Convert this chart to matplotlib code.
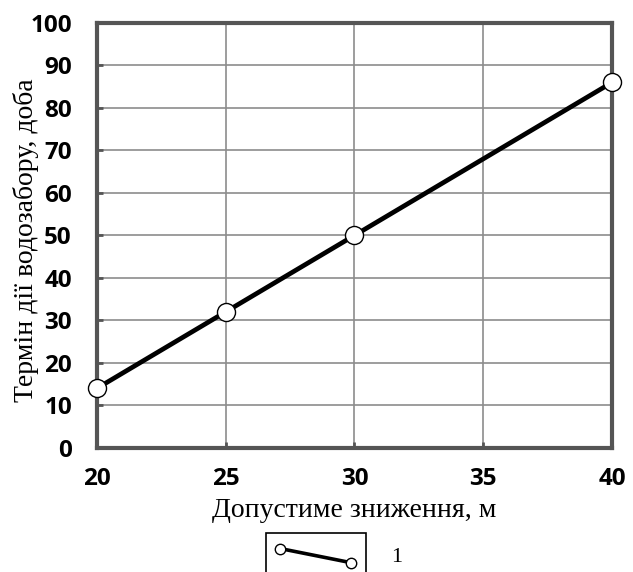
import matplotlib

matplotlib.use("Agg")
import matplotlib.pyplot as plt
from matplotlib.legend_handler import HandlerLine2D
from matplotlib.lines import Line2D
from matplotlib.patches import Rectangle

# data
drawdown = [20, 25, 30, 40]          # Допустиме зниження, м
duration = [14, 32, 50, 86]          # Термін дії водозабору, доба
x_ticks = [20, 25, 30, 35, 40]
y_ticks = [0, 10, 20, 30, 40, 50, 60, 70, 80, 90, 100]
series_label = "1"

FRAME = "#555555"
GRID = "#8c8c8c"


class BoxedSlopeHandler(HandlerLine2D):
    """Legend icon: a sloping line between two circles, framed by a box."""

    def create_artists(self, legend, orig_handle, xdescent, ydescent,
                       width, height, fontsize, trans):
        x0, x1 = -xdescent + 0.14 * width, -xdescent + 0.85 * width
        y0, y1 = -ydescent + 0.85 * height, -ydescent + 0.05 * height
        line = Line2D([x0, x1], [y0, y1], color="black", lw=2.6,
                      marker="o", markersize=7.5, markerfacecolor="white",
                      markeredgecolor="black", markeredgewidth=1.0)
        line.set_transform(trans)
        box = Rectangle((-xdescent, -ydescent - 0.9 * height), width,
                        2.6 * height, fill=False, edgecolor="black", lw=1.2)
        box.set_transform(trans)
        return [box, line]


fig = plt.figure(figsize=(6.33, 5.72), dpi=100)
ax = fig.add_axes([0.153, 0.217, 0.814, 0.743])

ax.plot(drawdown, duration, color="black", lw=3.4, marker="o",
        markersize=13, markerfacecolor="white", markeredgecolor="black",
        markeredgewidth=1.0, label=series_label, zorder=3, clip_on=False)

ax.set_xlim(x_ticks[0], x_ticks[-1])
ax.set_ylim(y_ticks[0], y_ticks[-1])
ax.set_xticks(x_ticks)
ax.set_yticks(y_ticks)
ax.grid(True, color=GRID, lw=1.2)
ax.set_axisbelow(True)

for spine in ax.spines.values():
    spine.set_color(FRAME)
    spine.set_linewidth(3)

ax.tick_params(direction="in", length=4, width=2, color=FRAME,
               labelsize=17.5)
ax.tick_params(axis="x", pad=14)
ax.tick_params(axis="y", pad=18)
for lab in ax.get_xticklabels() + ax.get_yticklabels():
    lab.set_fontweight("bold")
    lab.set_family("Open Sans")

serif = "Liberation Serif"
ax.set_xlabel("Допустиме зниження, м", family=serif, fontsize=20)
ax.set_ylabel("Термін дії водозабору, доба", family=serif, fontsize=20)
ax.xaxis.set_label_coords(0.5, -0.118)
ax.yaxis.set_label_coords(-0.113, 0.489)

fig.legend(loc="lower left", bbox_to_anchor=(0.389, -0.027), frameon=False,
           handler_map={Line2D: BoxedSlopeHandler()}, handlelength=4.5,
           handleheight=0.85, handletextpad=1.1,
           prop={"family": serif, "size": 16})

fig.savefig("out.png", dpi=100)
